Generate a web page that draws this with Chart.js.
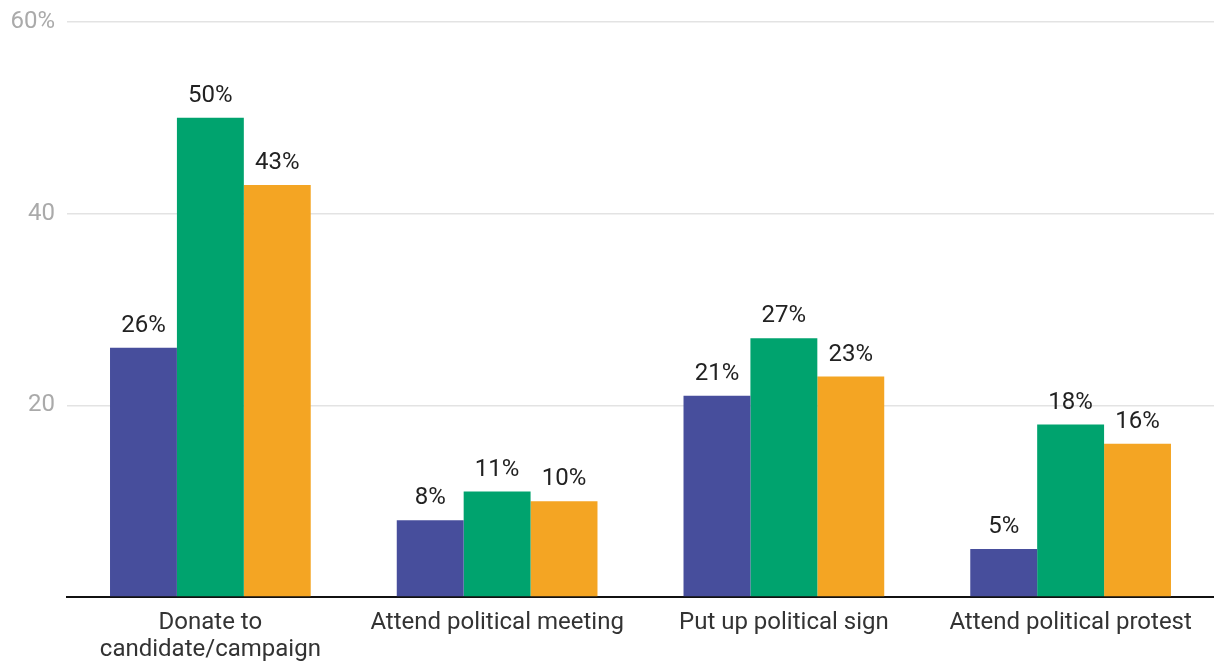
<!DOCTYPE html>
<html>
<head>
<meta charset="utf-8">
<script src="https://cdn.jsdelivr.net/npm/chart.js@4"></script>
<style>
	html, body { margin: 0; padding: 0; background: #fff; }
	#wrap { width: 1214px; height: 662px; }
</style>
</head>
<body>
<div id="wrap"><canvas id="chart"></canvas></div>
<script>
const categories = [['Donate to', 'candidate/campaign'], 'Attend political meeting', 'Put up political sign', 'Attend political protest'];
const seriesA = [26, 8, 21, 5];
const seriesB = [50, 11, 27, 18];
const seriesC = [43, 10, 23, 16];
const yTicks = [0, 20, 40, 60];

const valueLabels = {
	id: 'valueLabels',
	afterDatasetsDraw(chart) {
		const ctx = chart.ctx;
		ctx.save();
		ctx.font = '24px Roboto';
		ctx.fillStyle = '#222';
		ctx.textAlign = 'center';
		ctx.textBaseline = 'bottom';
		chart.data.datasets.forEach((ds, i) => {
			chart.getDatasetMeta(i).data.forEach((bar, j) => {
				ctx.fillText(ds.data[j] + '%', bar.x, bar.y - 10);
			});
		});
		ctx.restore();
	}
};

new Chart(document.getElementById('chart'), {
	type: 'bar',
	data: {
		labels: categories,
		datasets: [
			{ label: 'A', data: seriesA, backgroundColor: '#474e9c' },
			{ label: 'B', data: seriesB, backgroundColor: '#00a36e' },
			{ label: 'C', data: seriesC, backgroundColor: '#f4a523' }
		]
	},
	options: {
		responsive: true,
		maintainAspectRatio: false,
		animation: false,
		layout: { padding: { top: 22, right: 0, left: 0, bottom: 0 } },
		datasets: { bar: { categoryPercentage: 0.7, barPercentage: 1 } },
		plugins: {
			legend: { display: false },
			tooltip: { enabled: false }
		},
		scales: {
			x: {
				afterFit(axis) { axis.height = 65; },
				grid: { display: false, drawTicks: false },
				border: { color: '#111', width: 2 },
				ticks: {
					color: '#333',
					font: { family: 'Roboto', size: 24, lineHeight: 1.12 },
					padding: 13,
					maxRotation: 0,
					autoSkip: false
				}
			},
			y: {
				min: 0,
				max: 60,
				afterFit(axis) { axis.width = 67; axis.paddingTop = 0; axis.paddingBottom = 0; },
				afterBuildTicks(axis) { axis.ticks = yTicks.map(v => ({ value: v })); },
				grid: { color: '#e3e3e3', drawTicks: false, lineWidth: 1.5 },
				border: { display: false },
				ticks: {
					color: '#aaa',
					font: { family: 'Roboto', size: 24 },
					padding: 12,
					callback: v => v === 0 ? '' : (v === 60 ? v + '%' : v)
				}
			}
		}
	},
	plugins: [valueLabels]
});
</script>
</body>
</html>
